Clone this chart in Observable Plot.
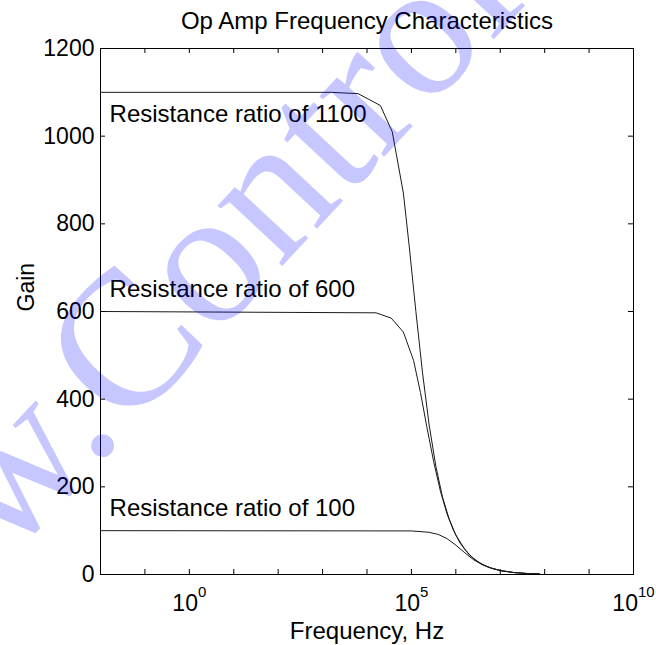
<!DOCTYPE html>
<html>
<head>
<meta charset="utf-8">
<script src="https://cdn.jsdelivr.net/npm/d3@7"></script>
<script src="https://cdn.jsdelivr.net/npm/@observablehq/plot@0.6"></script>
<style>
  html, body { margin: 0; padding: 0; background: #fff; overflow: hidden; }
  svg { display: block; }
</style>
</head>
<body>
<div id="chart"></div>
<script>
// ---- Data ----
const title = "Op Amp Frequency Characteristics";
const xLabel = "Frequency, Hz";
const yLabel = "Gain";

const curveLabels = ["Resistance ratio of 1100", "Resistance ratio of 600", "Resistance ratio of 100"];
const labelGain = [1050, 650, 150];
const labelFreq = 0.016;

const freq1100 = [0.01, 1550, 6300, 2.0e4, 3.7e4, 6.6e4, 8.9e4, 1.26e5, 1.78e5, 2.51e5, 3.55e5, 5.0e5, 7.1e5, 1.0e6, 1.6e6, 2.5e6, 4.0e6, 6.3e6, 1.0e7, 2.0e7, 4.0e7, 7.6e7];
const gain1100 = [1100, 1100, 1097, 1070, 1010, 870, 750, 600, 460, 341, 247, 177, 126, 90, 57, 36, 22.6, 14.3, 9, 4.5, 2.3, 1.2];

const freq600 = [0.01, 1.6e4, 3.5e4, 6.6e4, 1.12e5, 1.6e5, 2.24e5, 3.16e5, 4.5e5, 6.3e5, 8.9e5, 1.26e6, 2.0e6, 3.2e6, 5.0e6, 1.0e7, 2.0e7, 4.0e7, 7.6e7];
const gain600 = [600, 597, 585, 553, 488, 415, 335, 258, 190, 139, 100, 71, 45, 28.4, 18, 9, 4.5, 2.3, 1.2];

const freq100 = [0.01, 1.0e5, 2.5e5, 4.0e5, 6.3e5, 1.0e6, 1.6e6, 2.5e6, 4.0e6, 6.3e6, 1.0e7, 2.0e7, 4.0e7, 7.6e7];
const gain100 = [100, 99.4, 96.3, 91.5, 82, 67, 49.4, 33.7, 22.1, 14.1, 9, 4.5, 2.3, 1.2];

const yTicks = [0, 200, 400, 600, 800, 1000, 1200];
const xTicks = [1e-2, 1e-1, 1e0, 1e1, 1e2, 1e3, 1e4, 1e5, 1e6, 1e7, 1e8, 1e9, 1e10];
const xLabelTicks = [1e0, 1e5, 1e10];
const xLabelExponents = ["0", "5", "10"];

const watermark = "www.ControlTheoryPro.com";

// ---- Build table ----
const rows = [];
function addSeries(name, freqs, gains) {
  freqs.forEach((f, i) => rows.push({series: name, f, gain: gains[i]}));
}
addSeries(curveLabels[0], freq1100, gain1100);
addSeries(curveLabels[1], freq600, gain600);
addSeries(curveLabels[2], freq100, gain100);

const W = 656, H = 645, mT = 48, mR = 23, mB = 71, mL = 100;
const innerW = W - mL - mR, innerH = H - mT - mB, tickLen = 5;

const plot = Plot.plot({
  width: W, height: H,
  marginTop: mT, marginRight: mR, marginBottom: mB, marginLeft: mL,
  style: {fontFamily: "'Liberation Sans', Arial, Helvetica, sans-serif", fontSize: "23px", color: "black", background: "white"},
  x: {type: "log", domain: [1e-2, 1e10], axis: null},
  y: {domain: [0, 1200], axis: null},
  marks: [
    Plot.line(rows, {x: "f", y: "gain", z: "series", stroke: "#1a1a1a", strokeWidth: 1}),
    Plot.tickX(xTicks, {x: d => d, insetTop: innerH - tickLen, stroke: "black"}),
    Plot.tickX(xTicks, {x: d => d, insetBottom: innerH - tickLen, stroke: "black"}),
    Plot.tickY(yTicks, {y: d => d, insetRight: innerW - tickLen, stroke: "black"}),
    Plot.tickY(yTicks, {y: d => d, insetLeft: innerW - tickLen, stroke: "black"}),
    Plot.frame({stroke: "black"}),
    Plot.text(yTicks, {y: d => d, frameAnchor: "left", text: d => String(d), textAnchor: "end", dx: -6, lineAnchor: "middle", fontSize: 23}),
    Plot.text(xLabelTicks, {x: d => d, frameAnchor: "bottom", text: (d, i) => "10^" + xLabelExponents[i], lineAnchor: "bottom", dy: 36, fontSize: 23}),
    Plot.text(curveLabels, {x: () => labelFreq, y: (d, i) => labelGain[i], text: d => d, textAnchor: "start", lineAnchor: "middle", fontSize: 24}),
    Plot.text([title], {frameAnchor: "top", text: d => d, dy: -20, lineAnchor: "bottom", fontSize: 24}),
    Plot.text([xLabel], {frameAnchor: "bottom", text: d => d, dy: 64, lineAnchor: "bottom", fontSize: 24}),
    Plot.text([yLabel], {frameAnchor: "left", text: d => d, dx: -67, rotate: -90, lineAnchor: "bottom", fontSize: 23})
  ]
});

// superscripts for the decade labels
d3.select(plot).selectAll("text").each(function () {
  const t = d3.select(this);
  const s = t.text();
  if (s.indexOf("^") < 0) return;
  const parts = s.split("^");
  t.text(null);
  t.append("tspan").text(parts[0]);
  t.append("tspan").attr("dy", -14).attr("font-size", "15px").text(parts[1]);
});

// translucent watermark overlay
d3.select(plot).append("text")
  .attr("transform", "translate(-184,766) rotate(-47)")
  .attr("text-anchor", "start")
  .attr("font-family", "'Liberation Serif', 'Times New Roman', serif")
  .attr("font-size", 193)
  .attr("fill", "#0000ff")
  .attr("fill-opacity", 0.22)
  .text(watermark);

document.getElementById("chart").appendChild(plot);
</script>
</body>
</html>
